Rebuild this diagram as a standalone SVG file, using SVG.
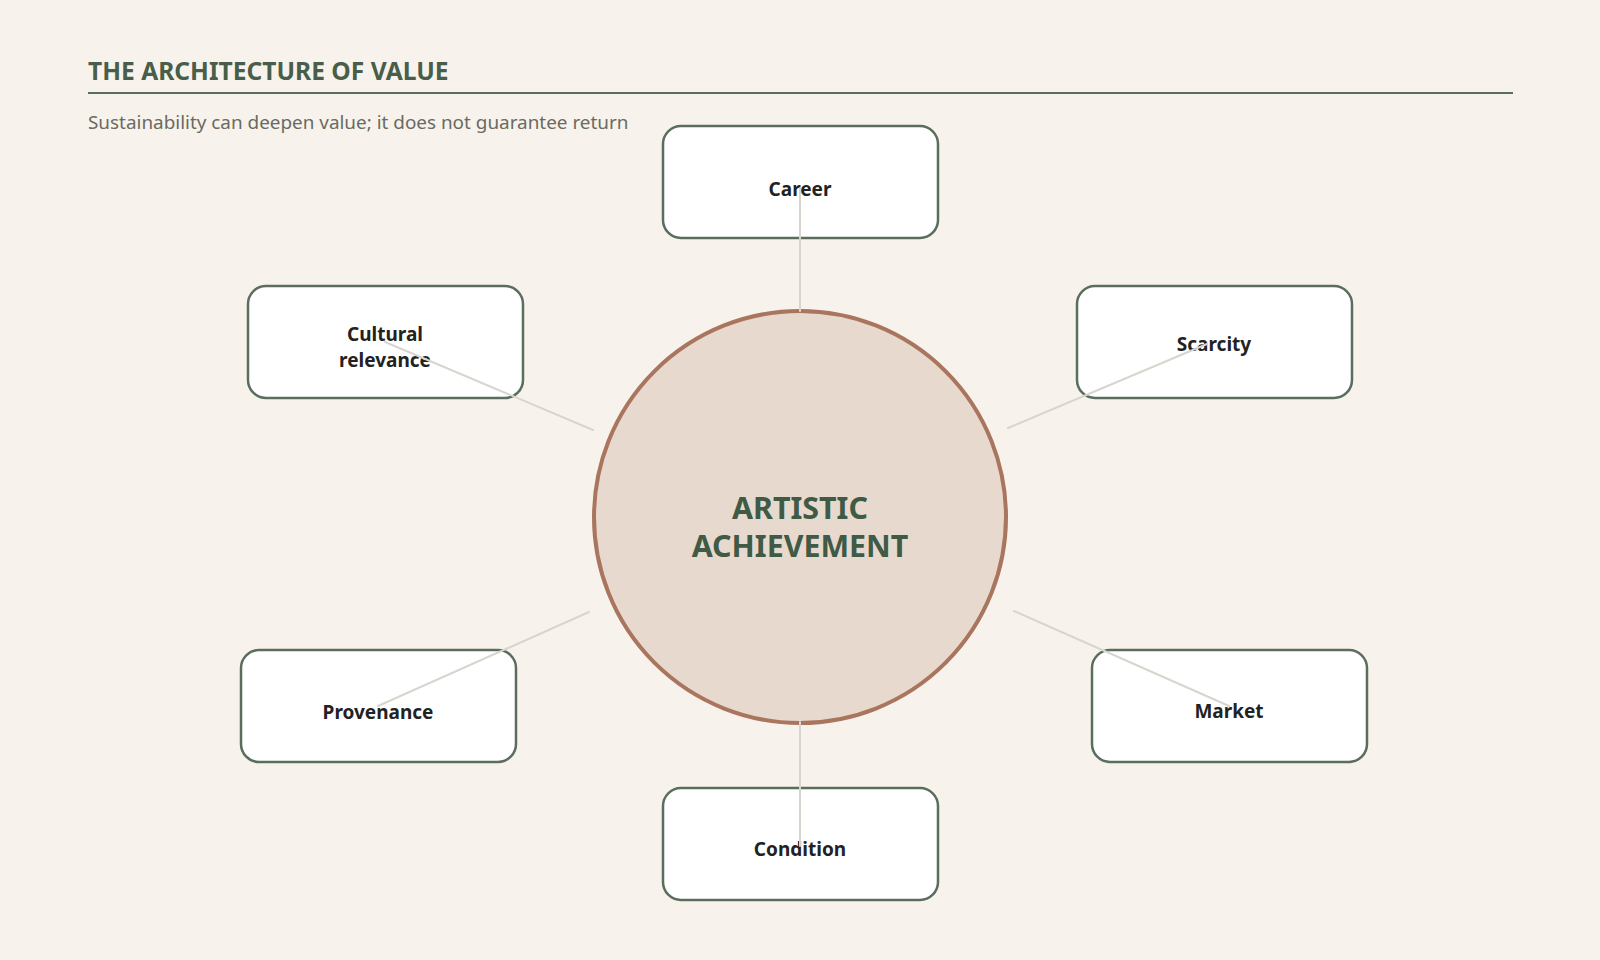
<svg xmlns="http://www.w3.org/2000/svg" width="1600" height="960" viewBox="0 0 1600 960">
<style>
.node rect{fill:#ffffff;stroke:#5b6e5e;stroke-width:2.5}
.node text{font-family:"Noto Sans","Open Sans",sans-serif;font-weight:700;font-size:19px;fill:#222222;text-anchor:middle}
.conn line{stroke:#d8d5cf;stroke-width:2;stroke-linecap:round}
.title{font-family:"Noto Sans","Open Sans",sans-serif;font-weight:700;font-size:24.6px;fill:#485e4a}
.sub{font-family:"Noto Sans","Open Sans",sans-serif;font-size:18.9px;fill:#6a6a62}
.hub text{font-family:"Noto Sans","Open Sans",sans-serif;font-weight:700;font-size:30.4px;fill:#3f5a45;text-anchor:middle}
</style>
<rect width="1600" height="960" fill="#f7f3ec"/>
<text class="title" x="88" y="80">THE ARCHITECTURE OF VALUE</text>
<line x1="88" y1="93" x2="1513" y2="93" stroke="#5b6e5e" stroke-width="2"/>
<text class="sub" x="88" y="129">Sustainability can deepen value; it does not guarantee return</text>
<g id="hub" class="hub">
<circle cx="800" cy="517" r="206" fill="#e8d9ce" stroke="#a9755f" stroke-width="4"/>
<text x="800" y="519">ARTISTIC</text>
<text x="800" y="557">ACHIEVEMENT</text>
</g>
<g id="node-career" class="node">
<rect x="663" y="126" width="275" height="112" rx="18"/>
<text x="800" y="196">Career</text>
</g>
<g id="node-cultural" class="node">
<rect x="248" y="286" width="275" height="112" rx="18"/>
<text x="385" y="341">Cultural</text>
<text x="385" y="367">relevance</text>
</g>
<g id="node-scarcity" class="node">
<rect x="1077" y="286" width="275" height="112" rx="18"/>
<text x="1214" y="351">Scarcity</text>
</g>
<g id="node-provenance" class="node">
<rect x="241" y="650" width="275" height="112" rx="18"/>
<text x="378" y="719">Provenance</text>
</g>
<g id="node-market" class="node">
<rect x="1092" y="650" width="275" height="112" rx="18"/>
<text x="1229" y="718">Market</text>
</g>
<g id="node-condition" class="node">
<rect x="663" y="788" width="275" height="112" rx="18"/>
<text x="800" y="856">Condition</text>
</g>
<g id="connectors" class="conn">
<line x1="800" y1="188" x2="800" y2="311"/>
<line x1="800" y1="846" x2="800" y2="722"/>
<line x1="385" y1="342" x2="593" y2="430"/>
<line x1="1207" y1="344" x2="1008" y2="428"/>
<line x1="378" y1="706" x2="589" y2="612"/>
<line x1="1229" y1="706" x2="1014" y2="611"/>
</g>
</svg>
